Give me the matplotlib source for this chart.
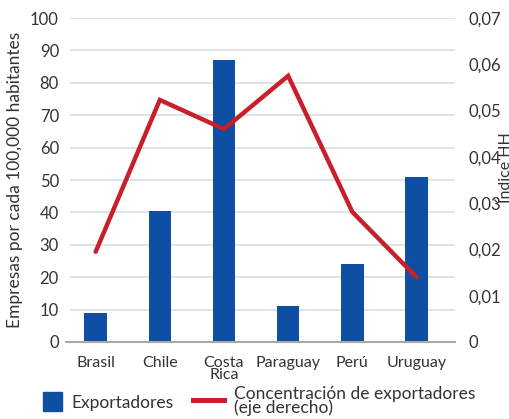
import matplotlib.pyplot as plt
from matplotlib.patches import Patch, Rectangle
from matplotlib.lines import Line2D
from matplotlib.legend_handler import HandlerPatch

paises = ["Brasil", "Chile", "Costa\nRica", "Paraguay", "Perú", "Uruguay"]
exportadores = [9, 40.5, 87, 11, 24, 51]
indice_hh = [0.0195, 0.0523, 0.046, 0.0575, 0.0281, 0.014]

azul = "#0e4ea3"
rojo = "#c8202a"
gris_txt = "#333333"

plt.rcParams["font.family"] = ["Lato", "DejaVu Sans"]


def cuadrado(legend, orig_handle, xdescent, ydescent, width, height, fontsize):
    # cuadro pegado al lado derecho de la caja del marcador
    return Rectangle((-xdescent + width - height, -ydescent), height, height)


fig = plt.figure(figsize=(5.10, 4.19), dpi=100)
ax = fig.add_axes([70 / 510, 1 - 342 / 419, 385 / 510, 324 / 419])
ax2 = ax.twinx()

x = range(len(paises))
ax.bar(x, exportadores, width=0.35, color=azul, zorder=3)
ax2.plot(x, indice_hh, color=rojo, lw=3.2, solid_capstyle="round",
         solid_joinstyle="miter", zorder=4)

ax.set_ylim(0, 100)
ax2.set_ylim(0, 0.07)
ax.set_xlim(-0.4, 5.6)
ax.set_yticks(range(0, 101, 10))
ax2.set_yticks([i / 100 for i in range(8)])
ax2.set_yticklabels(["0"] + ["0,0%d" % i for i in range(1, 8)])
ax.set_xticks(list(x))
ax.set_xticklabels(paises, linespacing=0.85)

ax.grid(axis="y", color="#dddddd", lw=1.2, zorder=0)
for a in (ax, ax2):
    for s in ("top", "right", "left", "bottom"):
        a.spines[s].set_visible(False)
    a.tick_params(length=0, labelsize=12, colors=gris_txt)
ax.axhline(0, color="#aaaaaa", lw=1.5, zorder=5, xmin=-0.01, clip_on=False)
ax.tick_params(axis="x", pad=10, labelsize=11.5)
ax.tick_params(axis="y", pad=8)
ax2.tick_params(axis="y", pad=10)

ax.set_ylabel("Empresas por cada 100,000 habitantes", fontsize=12.5,
              color=gris_txt, labelpad=5)
fig.text(506 / 510, 1 - 168 / 419, "Índice HH", rotation=90, fontsize=11.5,
         color=gris_txt, ha="center", va="center")

handles = [Patch(color=azul), Line2D([], [], color=rojo, lw=3.6)]
labels = ["Exportadores", "Concentración de exportadores\n(eje derecho)"]
fig.legend(handles, labels, loc="lower left", bbox_to_anchor=(31 / 510, 3 / 419),
           ncol=2, frameon=False, fontsize=12.5, handlelength=1.8,
           handleheight=1.3, columnspacing=1.1, handletextpad=0.55,
           borderpad=0, borderaxespad=0, labelcolor=gris_txt,
           handler_map={Patch: HandlerPatch(patch_func=cuadrado)})
for t in fig.legends[0].get_texts():
    t.set_linespacing(0.8)

fig.savefig("out.png", dpi=100)
